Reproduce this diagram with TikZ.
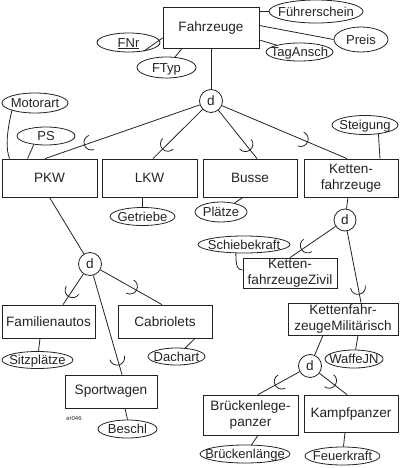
\documentclass[tikz,border=0pt]{standalone}
\usepackage{fontspec}
\setmainfont{Liberation Sans}
\usetikzlibrary{shapes.geometric,decorations.markings}
\definecolor{ink}{RGB}{35,35,35}
\newcommand{\et}[1]{\raisebox{-0.36em}[0pt][0pt]{\makebox[0pt]{#1}}}
\begin{document}
\begin{tikzpicture}[x=1pt,y=-1pt, line width=0.8pt, color=ink,
  every node/.style={font=\fontsize{13.6}{15.5}\selectfont},
  ent/.style={draw, rectangle, inner sep=0pt, align=center},
  att/.style={draw, ellipse, inner sep=0pt, font=\fontsize{13}{15}\selectfont},
  dis/.style={draw, circle, inner sep=0pt, minimum size=23pt},
  sub/.style={postaction={decorate}, decoration={markings, mark=at position #1 with {\draw (0,7.5pt) arc[start angle=90,end angle=-90,radius=7.5pt];}}}]
\useasboundingbox (0,0) rectangle (400,468);
% entities
\node[ent, minimum width=96pt, minimum height=41pt] (fz) at (211,27.5) {Fahrzeuge};
\node[ent, minimum width=95pt, minimum height=38pt] (pkw) at (49.5,178) {PKW};
\node[ent, minimum width=95pt, minimum height=38pt] (lkw) at (149.5,178) {LKW};
\node[ent, minimum width=94pt, minimum height=38pt] (busse) at (250,178) {Busse};
\node[ent, minimum width=94pt, minimum height=38pt] (ketten) at (351,178) {Ketten-\\fahrzeuge};
\node[ent, minimum width=93pt, minimum height=33pt] (fam) at (48.5,321.5) {Familienautos};
\node[ent, minimum width=94pt, minimum height=33pt] (cab) at (165,321.5) {Cabriolets};
\node[ent, minimum width=92pt, minimum height=33pt] (sport) at (111,391.5) {Sportwagen};
\node[ent, minimum width=94pt, minimum height=30pt] (kzivil) at (290,273) {Ketten-\\fahrzeugeZivil};
\node[ent, minimum width=110pt, minimum height=32pt] (kmil) at (343,319) {Kettenfahr-\\zeugeMilitärisch};
\node[ent, minimum width=95pt, minimum height=40pt] (bruecke) at (250.5,415) {Brückenlege-\\panzer};
\node[ent, minimum width=94pt, minimum height=37pt] (kampf) at (351,413.5) {Kampfpanzer};
% disjointness circles
\node[dis] (d1) at (211,101) {d};
\node[dis, minimum size=22pt] (d2) at (345,220) {d};
\node[dis] (d3) at (90,264) {d};
\node[dis] (d4) at (310,366) {d};
% attributes
\node[att, minimum width=94pt, minimum height=23pt] (fs) at (316,11.5) {\et{Führerschein}};
\node[att, minimum width=54pt, minimum height=25pt] (preis) at (361,39.5) {\et{Preis}};
\node[att, minimum width=67pt, minimum height=18pt] (tag) at (299.5,52) {\et{TagAnsch}};
\node[att, minimum width=63pt, minimum height=19pt] (fnr) at (128.5,42.5) {\et{\underline{FNr}}};
\node[att, minimum width=59pt, minimum height=21pt] (ftyp) at (166.5,67.5) {\et{FTyp}};
\node[att, minimum width=66pt, minimum height=20pt] (motorart) at (35,103) {\et{Motorart}};
\node[att, minimum width=58pt, minimum height=18pt] (ps) at (46,136) {\et{PS}};
\node[att, minimum width=66pt, minimum height=19pt] (steigung) at (365,125) {\et{Steigung}};
\node[att, minimum width=65pt, minimum height=18pt] (getriebe) at (142.5,216.5) {\et{Getriebe}};
\node[att, minimum width=52pt, minimum height=20pt] (plaetze) at (221,212) {\et{Plätze}};
\node[att, minimum width=92pt, minimum height=17pt] (schiebe) at (244,244.5) {\et{Schiebekraft}};
\node[att, minimum width=71pt, minimum height=17pt] (sitz) at (37.5,360) {\et{Sitzplätze}};
\node[att, minimum width=57pt, minimum height=17pt] (dachart) at (176.5,356.5) {\et{Dachart}};
\node[att, minimum width=59pt, minimum height=18pt] (beschl) at (127.5,429) {\et{Beschl}};
\node[att, minimum width=58pt, minimum height=18pt] (waffe) at (354,359) {\et{WaffeJN}};
\node[att, minimum width=90pt, minimum height=18pt] (brlaenge) at (245,454) {\et{Brückenlänge}};
\node[att, minimum width=75pt, minimum height=18pt] (feuer) at (342.5,456) {\et{Feuerkraft}};
\node[font=\fontsize{6}{7}\selectfont, inner sep=0pt] (code) at (74,418) {er046};
% connectors
\draw (fz.east |- fs.west) -- (fs.west);
\draw ([yshift=2pt]fz.east) -- (preis.west);
\draw ([yshift=-12.5pt]fz.east) -- (tag);
\draw ([yshift=-10.5pt]fz.west) -- (fnr.-30);
\draw ([xshift=-29pt]fz.south) -- (ftyp);
\draw (fz.south) -- (d1);
\draw[sub=0.7] (d1) -- ([xshift=-4.5pt]pkw.north);
\draw[sub=0.7] (d1) -- ([xshift=3.5pt]lkw.north);
\draw[sub=0.7] (d1) -- ([xshift=7pt]busse.north);
\draw[sub=0.63] (d1) -- ([xshift=-4pt]ketten.north);
\draw (motorart.198) .. controls (6,135) and (6,150) .. ([xshift=8pt]pkw.north west);
\draw (ps.215) -- ([xshift=26pt]pkw.north west);
\draw (steigung.-34) -- ([xshift=29pt]ketten.north);
\draw (lkw.south -| getriebe.north) -- (getriebe.north);
\draw ([xshift=-7pt]busse.south) -- (plaetze);
\draw ([xshift=-3pt]ketten.south) -- (d2);
\draw (pkw.south) -- (d3);
\draw[sub=0.53] (d3) -- ([xshift=14.5pt]fam.north);
\draw[sub=0.48] (d3) -- ([xshift=-3pt]cab.north);
\draw[sub=0.83] (d3) -- ([xshift=11pt]sport.north);
\draw ([xshift=-8.5pt]fam.south) -- (sitz);
\draw ([xshift=30pt]cab.south) -- (dachart);
\draw ([xshift=14pt]sport.south) -- (beschl.north);
\draw (schiebe.227) .. controls (236,266) and (237,270) .. ([yshift=3pt]kzivil.west);
\draw[sub=0.61] (d2) -- (kzivil.north);
\draw[sub=0.78] (d2) -- ([xshift=18pt]kmil.north);
\draw ([xshift=15pt]kmil.south) -- (waffe);
\draw ([xshift=-20pt]kmil.south) -- (d4);
\draw[sub=0.43] (d4) -- ([xshift=7.5pt]bruecke.north);
\draw[sub=0.35] (d4) -- ([xshift=-4pt]kampf.north);
\draw ([xshift=7.5pt]bruecke.south) -- (brlaenge);
\draw ([xshift=-6pt]kampf.south) -- (feuer);
\end{tikzpicture}
\end{document}
